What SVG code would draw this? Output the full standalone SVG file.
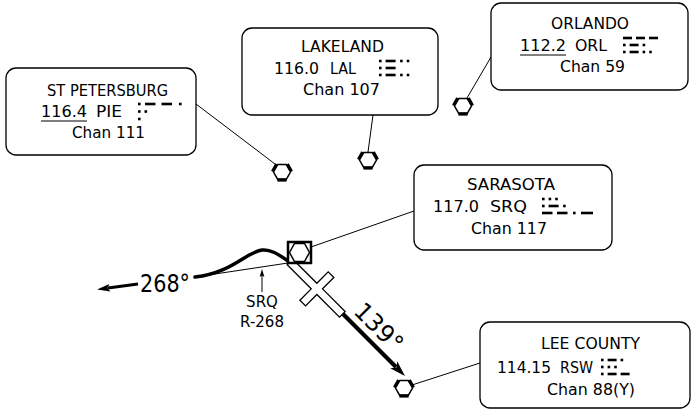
<svg xmlns="http://www.w3.org/2000/svg" width="693" height="413" viewBox="0 0 693 413">
<style>
.box{fill:#fff;stroke:#000;stroke-width:1.3}
.t{font-family:"DejaVu Sans","Liberation Sans",sans-serif;font-size:15px;fill:#000}
.big{font-family:"DejaVu Sans","Liberation Sans",sans-serif;font-size:25px;fill:#000}
.ld{stroke:#000;stroke-width:1;fill:none}
.ul{stroke:#000;stroke-width:1.2}
.m rect{fill:#000}
</style>
<defs>
<g id="vor">
<polygon points="8.5,0 4.25,-7.4 -4.25,-7.4 -8.5,0 -4.25,7.4 4.25,7.4" fill="#fff" stroke="#000" stroke-width="1.5"/>
<line x1="-9.6" y1="-0.6" x2="-5.4" y2="-7.9" stroke="#000" stroke-width="3"/>
<line x1="9.6" y1="-0.6" x2="5.4" y2="-7.9" stroke="#000" stroke-width="3"/>
<rect x="-4.6" y="6.2" width="9.2" height="3.4" fill="#000"/>
</g>
</defs>

<g id="connectors">
<line class="ld" x1="196" y1="104" x2="275" y2="164"/>
<line class="ld" x1="373" y1="115" x2="368" y2="152"/>
<line class="ld" x1="491" y1="57" x2="467" y2="98"/>
<line class="ld" x1="414" y1="211" x2="311" y2="247"/>
<line class="ld" x1="480" y1="363" x2="412" y2="385"/>
<line class="ld" x1="195" y1="277" x2="288" y2="263"/>
<path d="M288,261 C278,254 270,249 262,250 C246,252 232,273 195,277" fill="none" stroke="#000" stroke-width="3.5" stroke-linecap="round"/>
<line x1="138" y1="284" x2="108" y2="288" stroke="#000" stroke-width="3"/>
<polygon points="97,289.5 110.4,291.6 107.5,288.1 109.4,284" fill="#000"/>
<line x1="262" y1="292" x2="262" y2="274" stroke="#000" stroke-width="1"/>
<polygon points="262,269 259.6,277 262,275.6 264.4,277" fill="#000"/>
<line x1="343" y1="314" x2="396" y2="367" stroke="#000" stroke-width="4"/>
<polygon points="405,376 390.2,368.2 396.5,367.5 397.2,361.2" fill="#000"/>
</g>

<g id="runway">
<polygon transform="translate(290,262) rotate(45)" points="0,-4 34,-4 34,-20 42,-20 42,-4 74,-4 74,4 42,4 42,20 34,20 34,4 0,4" fill="#fff" stroke="#000" stroke-width="1.3"/>
</g>

<g id="radial-labels">
<text class="big" x="140" y="292" textLength="50" lengthAdjust="spacingAndGlyphs">268°</text>
<text class="big" transform="translate(373,333) rotate(45)" text-anchor="middle" style="font-size:24px">139°</text>
<text class="t" x="262" y="307" text-anchor="middle">SRQ</text>
<text class="t" x="262" y="327" text-anchor="middle">R-268</text>
</g>

<g id="vor-pie"><use href="#vor" x="282" y="172"/></g>
<g id="vor-lal"><use href="#vor" x="368" y="160"/></g>
<g id="vor-orl"><use href="#vor" x="463" y="106"/></g>
<g id="vor-rsw"><use href="#vor" x="404" y="388"/></g>
<g id="vortac-srq">
<rect x="288" y="242" width="23" height="21" fill="#fff" stroke="#000" stroke-width="2.5"/>
<polygon points="289.5,252.5 294.5,243.5 304.5,243.5 309.5,252.5 304.5,261.5 294.5,261.5" fill="none" stroke="#000" stroke-width="1.5"/>
</g>

<g id="st-petersburg">
<rect class="box" x="6" y="68" width="190" height="87" rx="10"/>
<text class="t" x="47" y="96" textLength="121" lengthAdjust="spacingAndGlyphs">ST PETERSBURG</text>
<text class="t" x="41" y="117" textLength="46" lengthAdjust="spacingAndGlyphs">116.4</text>
<line class="ul" x1="41" y1="121" x2="87" y2="121"/>
<text class="t" x="96" y="117" textLength="26" lengthAdjust="spacingAndGlyphs">PIE</text>
<g class="m">
<rect x="138" y="102.7" width="2.6" height="2.6"/><rect x="145" y="102.7" width="10.5" height="2.6"/><rect x="161.5" y="102.7" width="10.5" height="2.6"/><rect x="179" y="102.7" width="2.6" height="2.6"/>
<rect x="138" y="110.2" width="2.6" height="2.6"/><rect x="144.5" y="110.2" width="2.6" height="2.6"/>
<rect x="138" y="117.7" width="2.6" height="2.6"/>
</g>
<text class="t" x="72" y="138" textLength="73" lengthAdjust="spacingAndGlyphs">Chan 111</text>
</g>

<g id="lakeland">
<rect class="box" x="242" y="28" width="196" height="87" rx="10"/>
<text class="t" x="301" y="52" textLength="83" lengthAdjust="spacingAndGlyphs">LAKELAND</text>
<text class="t" x="274" y="74" textLength="45" lengthAdjust="spacingAndGlyphs">116.0</text>
<text class="t" x="330" y="74" textLength="26" lengthAdjust="spacingAndGlyphs">LAL</text>
<g class="m">
<rect x="379" y="59.7" width="2.6" height="2.6"/><rect x="385.6" y="59.7" width="10" height="2.6"/><rect x="400.1" y="59.7" width="2.6" height="2.6"/><rect x="406.7" y="59.7" width="2.6" height="2.6"/>
<rect x="379" y="66.7" width="2.6" height="2.6"/><rect x="385.6" y="66.7" width="10" height="2.6"/>
<rect x="379" y="73.7" width="2.6" height="2.6"/><rect x="385.6" y="73.7" width="10" height="2.6"/><rect x="400.1" y="73.7" width="2.6" height="2.6"/><rect x="406.7" y="73.7" width="2.6" height="2.6"/>
</g>
<text class="t" x="303" y="95" textLength="77" lengthAdjust="spacingAndGlyphs">Chan 107</text>
</g>

<g id="orlando">
<rect class="box" x="491" y="3" width="197" height="87" rx="10"/>
<text class="t" x="551" y="29" textLength="78" lengthAdjust="spacingAndGlyphs">ORLANDO</text>
<text class="t" x="520" y="51" textLength="46" lengthAdjust="spacingAndGlyphs">112.2</text>
<line class="ul" x1="520" y1="55" x2="566" y2="55"/>
<text class="t" x="575" y="51" textLength="32" lengthAdjust="spacingAndGlyphs">ORL</text>
<g class="m">
<rect x="623" y="36.7" width="9" height="2.6"/><rect x="636" y="36.7" width="9" height="2.6"/><rect x="649" y="36.7" width="9" height="2.6"/>
<rect x="623" y="43.7" width="2.6" height="2.6"/><rect x="629.6" y="43.7" width="9" height="2.6"/><rect x="642.6" y="43.7" width="2.6" height="2.6"/>
<rect x="623" y="50.7" width="2.6" height="2.6"/><rect x="629.6" y="50.7" width="9" height="2.6"/><rect x="642.6" y="50.7" width="2.6" height="2.6"/><rect x="649.2" y="50.7" width="2.6" height="2.6"/>
</g>
<text class="t" x="560" y="72" textLength="65" lengthAdjust="spacingAndGlyphs">Chan 59</text>
</g>

<g id="sarasota">
<rect class="box" x="414" y="165" width="198" height="85" rx="10"/>
<text class="t" x="467" y="190" textLength="88" lengthAdjust="spacingAndGlyphs">SARASOTA</text>
<text class="t" x="433" y="212" textLength="46" lengthAdjust="spacingAndGlyphs">117.0</text>
<text class="t" x="490" y="212" textLength="37" lengthAdjust="spacingAndGlyphs">SRQ</text>
<g class="m">
<rect x="542" y="197.7" width="2.6" height="2.6"/><rect x="548.6" y="197.7" width="2.6" height="2.6"/><rect x="555.2" y="197.7" width="2.6" height="2.6"/>
<rect x="542" y="204.7" width="2.6" height="2.6"/><rect x="548.6" y="204.7" width="10" height="2.6"/><rect x="563.1" y="204.7" width="2.6" height="2.6"/>
<rect x="542" y="211.7" width="10.5" height="2.6"/><rect x="557" y="211.7" width="10.5" height="2.6"/><rect x="573" y="211.7" width="2.6" height="2.6"/><rect x="581" y="211.7" width="12" height="2.6"/>
</g>
<text class="t" x="471" y="234" textLength="76" lengthAdjust="spacingAndGlyphs">Chan 117</text>
</g>

<g id="lee-county">
<rect class="box" x="480" y="322" width="210" height="86" rx="10"/>
<text class="t" x="541" y="349" textLength="99" lengthAdjust="spacingAndGlyphs">LEE COUNTY</text>
<text class="t" x="497" y="373" textLength="54" lengthAdjust="spacingAndGlyphs">114.15</text>
<text class="t" x="560" y="373" textLength="33" lengthAdjust="spacingAndGlyphs">RSW</text>
<g class="m">
<rect x="601" y="358.7" width="2.6" height="2.6"/><rect x="607.6" y="358.7" width="9" height="2.6"/><rect x="620.6" y="358.7" width="2.6" height="2.6"/>
<rect x="601" y="365.7" width="2.6" height="2.6"/><rect x="607.6" y="365.7" width="2.6" height="2.6"/><rect x="614.2" y="365.7" width="2.6" height="2.6"/>
<rect x="601" y="372.7" width="2.6" height="2.6"/><rect x="607.6" y="372.7" width="9" height="2.6"/><rect x="620.6" y="372.7" width="9" height="2.6"/>
</g>
<text class="t" x="547" y="395" textLength="88" lengthAdjust="spacingAndGlyphs">Chan 88(Y)</text>
</g>
</svg>
